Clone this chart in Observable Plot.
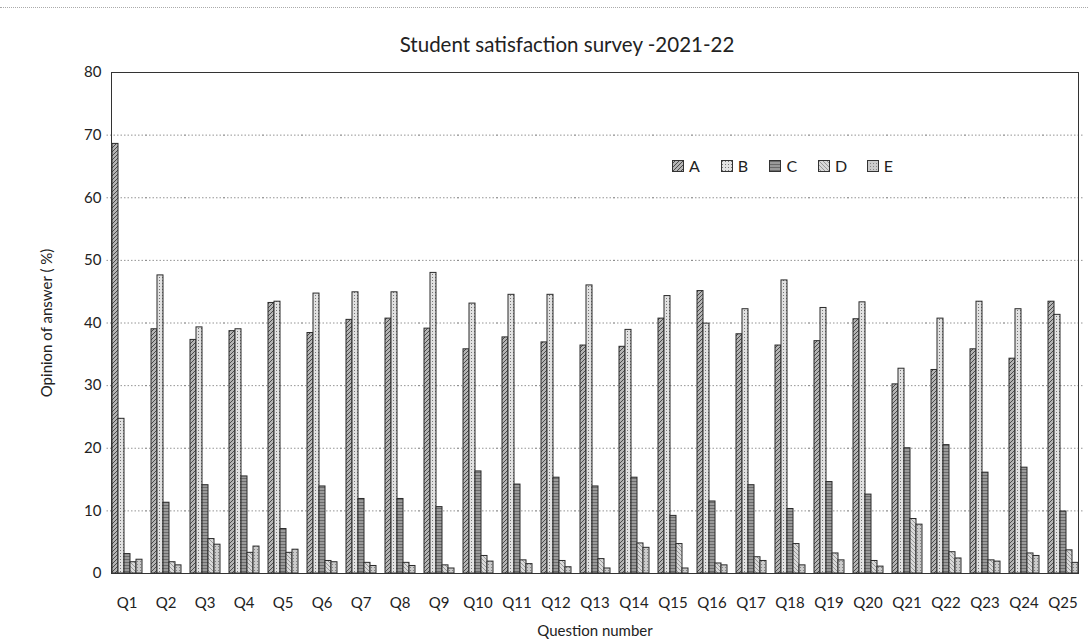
<!DOCTYPE html>
<html>
<head>
<meta charset="utf-8">
<script src="https://cdn.jsdelivr.net/npm/d3@7"></script>
<script src="https://cdn.jsdelivr.net/npm/@observablehq/plot@0.6"></script>
<style>
  body { margin: 0; background: #fff; font-family: Lato, "Open Sans", sans-serif; }
  #wrap { position: relative; width: 1088px; height: 644px; overflow: hidden; }
  #topline { position: absolute; top: 7px; left: 0; width: 1088px; border-top: 1px dotted #aaa; }
  #title { height: 60px; box-sizing: border-box; padding-top: 32px; padding-left: 46px; text-align: center;
           font-size: 20.5px; line-height: 24px; color: #222; }
  #legend { position: absolute; top: 156px; left: 672px; display: flex; font-size: 16px; color: #222; }
  #legend .item { display: flex; align-items: center; gap: 5px; width: 48.7px; }
  #chart svg { display: block; }
</style>
</head>
<body>
<svg width="0" height="0" style="position:absolute">
  <defs>
    <pattern id="patA" width="4" height="4" patternUnits="userSpaceOnUse">
      <rect width="4" height="4" fill="#b5b5b5"/>
      <path d="M-1,1 L1,-1 M0,4 L4,0 M3,5 L5,3" stroke="#4a4a4a" stroke-width="1"/>
    </pattern>
    <pattern id="patB" width="3" height="3" patternUnits="userSpaceOnUse">
      <rect width="3" height="3" fill="#e2e2e2"/>
      <rect x="1" y="1" width="1" height="1" fill="#777"/>
    </pattern>
    <pattern id="patC" width="3" height="3" patternUnits="userSpaceOnUse">
      <rect width="3" height="3" fill="#9a9a9a"/>
      <path d="M0,1.5 L3,1.5" stroke="#5e5e5e" stroke-width="0.8"/>
    </pattern>
    <pattern id="patD" width="4" height="4" patternUnits="userSpaceOnUse">
      <rect width="4" height="4" fill="#dadada"/>
      <path d="M-1,3 L1,5 M0,0 L4,4 M3,-1 L5,1" stroke="#888" stroke-width="0.8"/>
    </pattern>
    <pattern id="patE" width="3" height="3" patternUnits="userSpaceOnUse">
      <rect width="3" height="3" fill="#cbcbcb"/>
      <rect x="0" y="0" width="1" height="1" fill="#858585"/>
    </pattern>
  </defs>
</svg>
<div id="wrap">
  <div id="topline"></div>
  <div id="title"></div>
  <div id="chart"></div>
  <div id="legend"></div>
</div>
<script>
const titleText = "Student satisfaction survey -2021-22";
const yLabel = "Opinion of answer ( %)";
const xLabel = "Question number";
const questions = ["Q1","Q2","Q3","Q4","Q5","Q6","Q7","Q8","Q9","Q10","Q11","Q12","Q13","Q14","Q15","Q16","Q17","Q18","Q19","Q20","Q21","Q22","Q23","Q24","Q25"];
const seriesNames = ["A","B","C","D","E"];
const valuesA = [68.6,39.0,37.3,38.7,43.2,38.4,40.5,40.7,39.1,35.8,37.7,36.9,36.4,36.2,40.7,45.1,38.2,36.4,37.1,40.6,30.2,32.5,35.8,34.3,43.4];
const valuesB = [24.7,47.6,39.3,39.0,43.4,44.7,44.9,44.9,48.0,43.1,44.5,44.5,46.0,38.9,44.3,39.9,42.2,46.8,42.4,43.3,32.7,40.7,43.4,42.2,41.3];
const valuesC = [3.1,11.3,14.1,15.5,7.1,13.9,11.9,11.9,10.6,16.3,14.2,15.3,13.9,15.3,9.2,11.5,14.1,10.3,14.6,12.6,20.0,20.5,16.1,16.9,9.9];
const valuesD = [1.8,1.8,5.5,3.3,3.3,2.0,1.7,1.7,1.3,2.8,2.1,2.0,2.3,4.8,4.7,1.6,2.6,4.7,3.2,2.0,8.7,3.4,2.1,3.2,3.7];
const valuesE = [2.2,1.3,4.6,4.3,3.8,1.8,1.2,1.2,0.8,1.9,1.5,1.0,0.8,4.1,0.8,1.3,2.0,1.3,2.1,1.1,7.8,2.4,1.9,2.8,1.7];
const yTicks = [0,10,20,30,40,50,60,70,80];

const seriesValues = [valuesA, valuesB, valuesC, valuesD, valuesE];
const data = questions.flatMap((q, i) => seriesNames.map((s, j) => ({q, s, v: seriesValues[j][i]})));

document.getElementById("title").textContent = titleText;

const chart = Plot.plot({
  width: 1088,
  height: 584,
  marginTop: 12,
  marginLeft: 103,
  marginRight: 6,
  marginBottom: 71,
  style: {fontFamily: "Lato, 'Open Sans', sans-serif", fontSize: "15px", color: "#222", background: "transparent"},
  fx: {domain: questions, paddingInner: 0.2, paddingOuter: 0.15, align: 0.68},
  x: {domain: seriesNames, axis: null, padding: 0},
  y: {domain: [0, 80], label: null},
  color: {type: "identity"},
  marks: [
    Plot.gridY(yTicks.filter(d => d > 0 && d < 80), {stroke: "#666", strokeDasharray: "1.5,2", strokeOpacity: 0.7, insetLeft: -4.5, insetRight: -4.5}),
    Plot.barY(data, {fx: "q", x: "s", y: "v", fill: d => `url(#pat${d.s})`, stroke: "#2a2a2a", strokeWidth: 1}),
    Plot.frame({stroke: "#333", strokeWidth: 1, facet: "super"}),
    Plot.axisY({ticks: yTicks, tickSize: 0, tickPadding: 10, label: yLabel, labelAnchor: "center", labelArrow: "none", labelOffset: 70}),
    Plot.axisFx({anchor: "bottom", tickSize: 0, tickPadding: 24, label: xLabel, labelAnchor: "center", labelArrow: "none", labelOffset: 62})
  ]
});
document.getElementById("chart").appendChild(chart);

const legend = document.getElementById("legend");
seriesNames.forEach(s => {
  const item = document.createElement("div");
  item.className = "item";
  item.innerHTML = `<svg width="12" height="12"><rect x="0.5" y="0.5" width="11" height="11" fill="url(#pat${s})" stroke="#333"/></svg><span>${s}</span>`;
  legend.appendChild(item);
});
</script>
</body>
</html>
